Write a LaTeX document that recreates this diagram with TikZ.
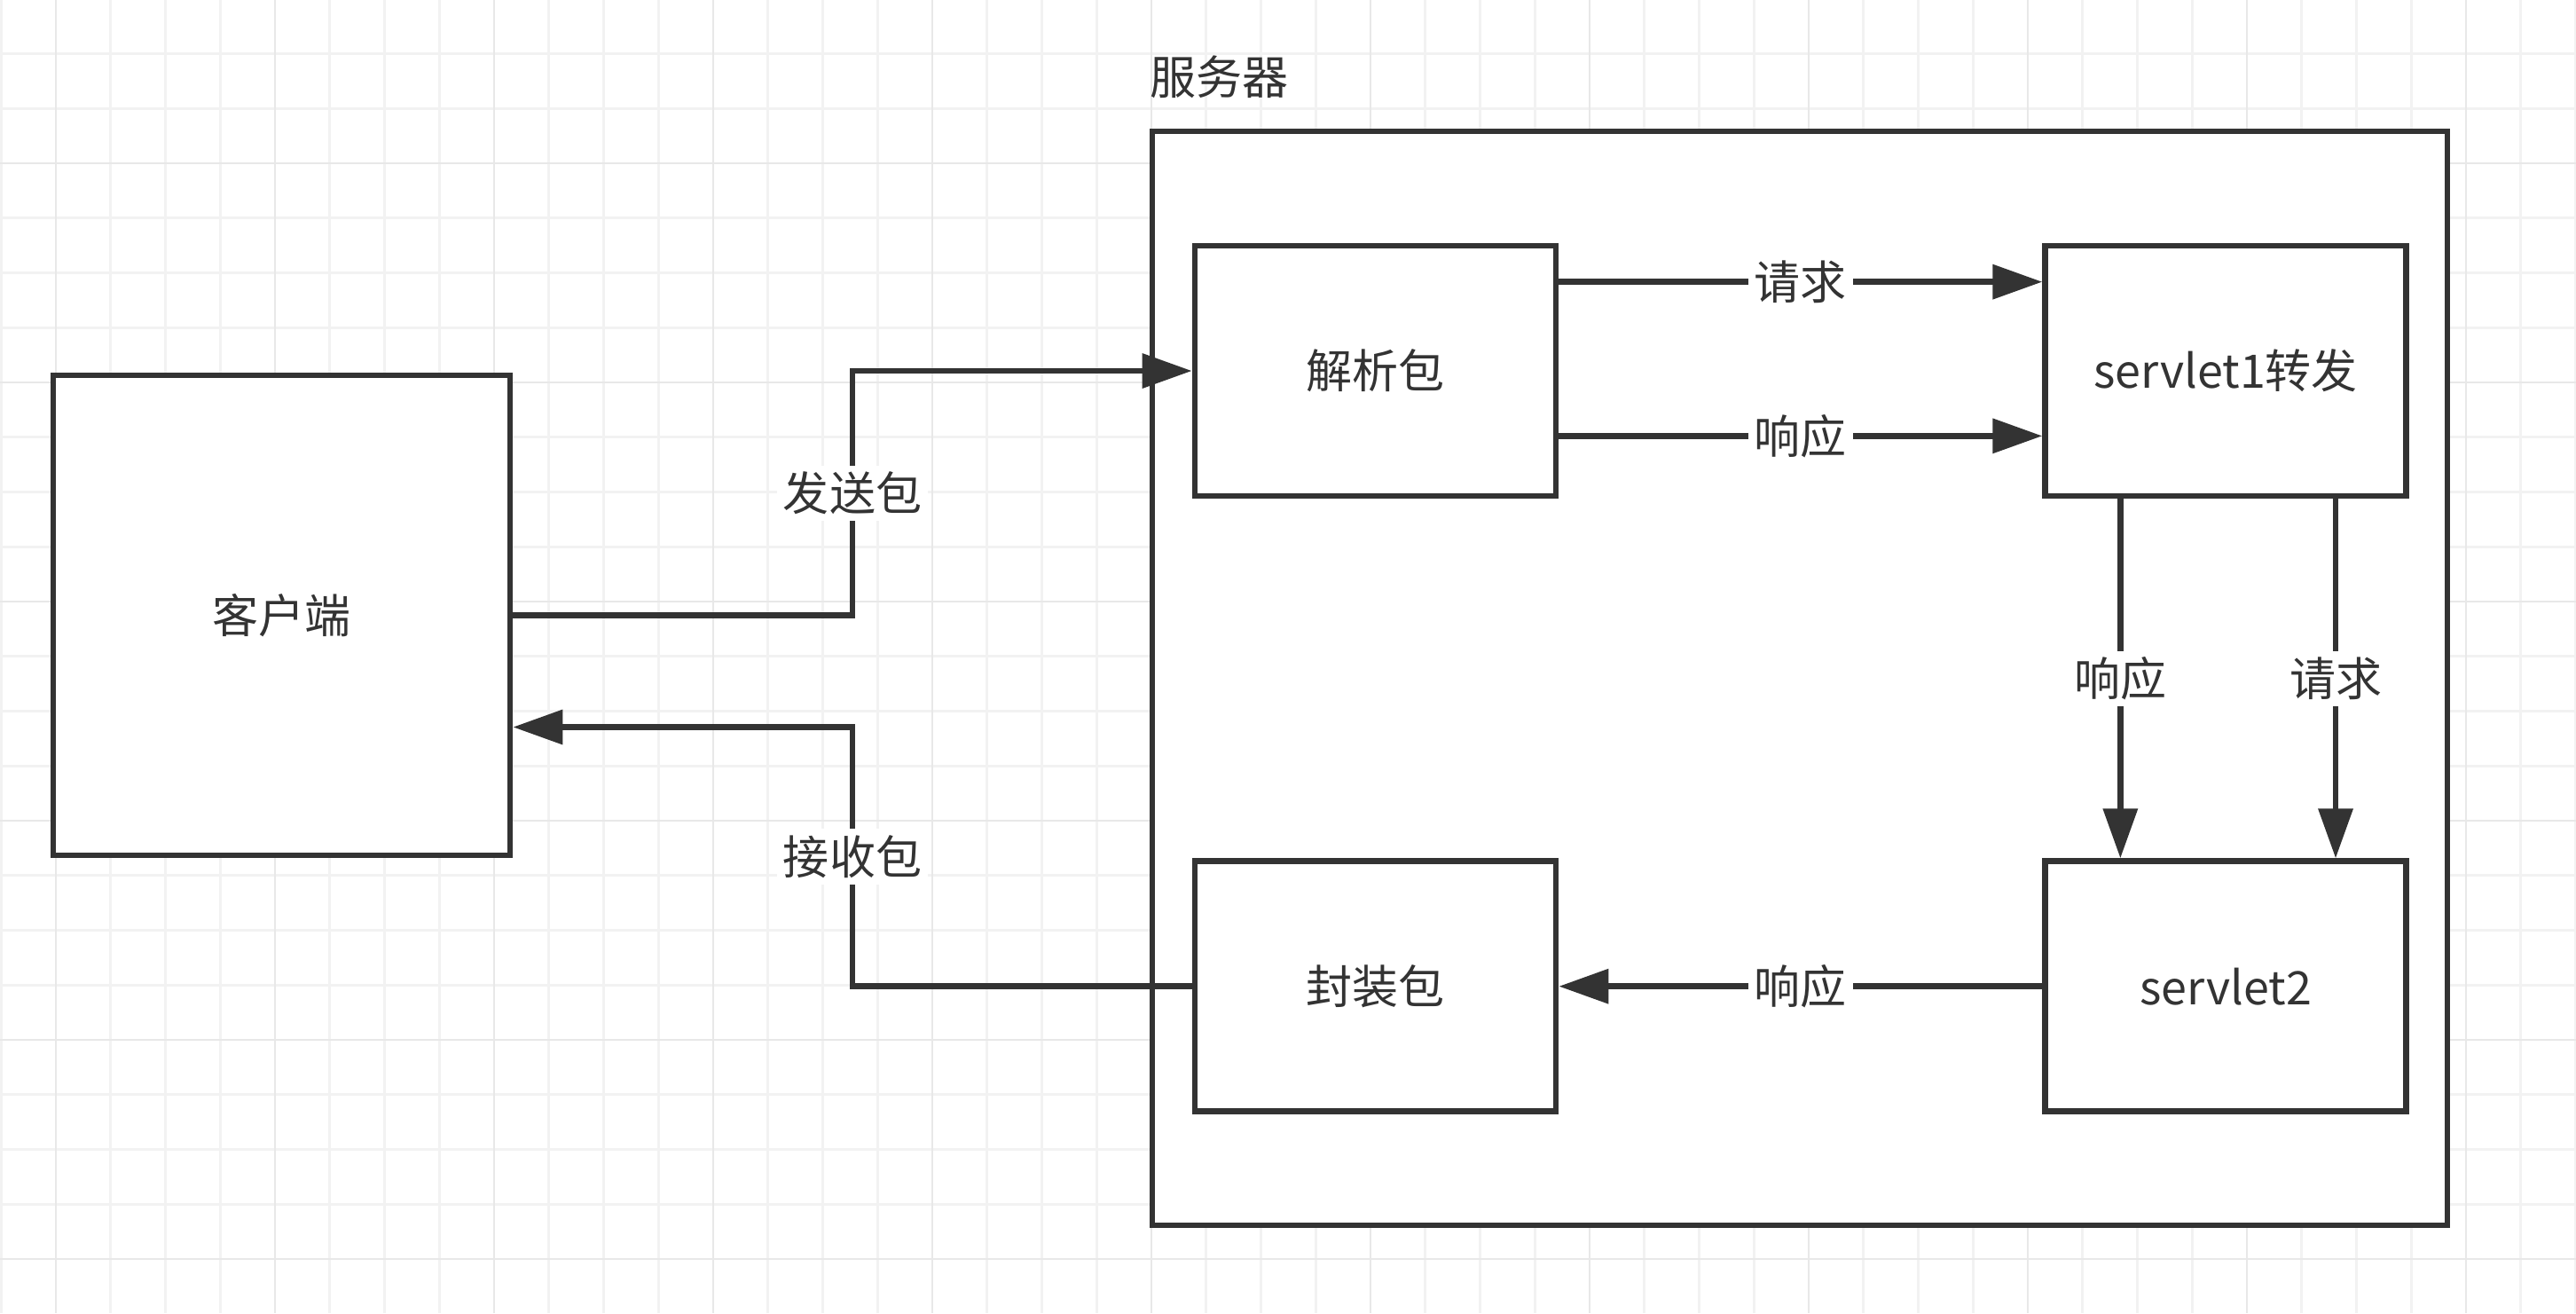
\documentclass[tikz,border=0pt]{standalone}
\usepackage{fontspec}
\setmainfont{Noto Sans CJK SC}
\usetikzlibrary{arrows.meta,positioning,calc}
\definecolor{ink}{HTML}{333333}

\begin{document}
\begin{tikzpicture}[
          box/.style   = {draw=ink, line width=1.9pt, fill=white, minimum width=40.7mm, minimum height=28.2mm, align=center},
          frame/.style = {draw=ink, line width=1.9pt, fill=white, minimum width=146mm, minimum height=123.3mm},
          wire/.style  = {draw=ink, line width=1.9pt, -{Triangle[length=5.6mm,width=3.8mm]}},
          tag/.style   = {fill=white, inner sep=2pt},
          minor/.style = {draw=gray!10, line width=0.8pt},
          major/.style = {draw=gray!18, line width=0.8pt},
          font=\fontsize{14.8}{17}\selectfont, text=ink
        ]

        % --- paper grid
        \fill[white] (0,0) rectangle (29.04,-14.80);
        \useasboundingbox (0,0) rectangle (29.04,-14.80);
        \foreach \i in {0,...,47} \draw[minor] (0.013+\i*0.6175,0) -- ++(0,-14.8);
        \foreach \j in {1,...,23} \draw[minor] (0,0.0125-\j*0.6175) -- ++(29.04,0);
        \foreach \i in {1,5,...,45} \draw[major] (0.013+\i*0.6175,0) -- ++(0,-14.8);
        \foreach \j in {3,7,...,23} \draw[major] (0,0.0125-\j*0.6175) -- ++(29.04,0);

        % --- blocks
        \node[frame]                                 (server) at (20.29,-7.645) {};
        \node[anchor=base west, inner sep=0pt]       (srvname) at ([yshift=3.8mm]server.north west) {服务器};
        \node[box, minimum width=51.5mm, minimum height=54.1mm] (client) at (3.175,-6.935) {客户端};
        \node[box]                                   (parse) at (15.505,-4.18) {解析包};
        \node[box, right=54.5mm of parse]            (fwd)   {servlet1转发};
        \node[box, below=40.5mm of parse]            (pack)  {封装包};
        \node[box, right=54.5mm of pack]             (sv2)   {servlet2};

        % --- inside the server
        \draw[wire] ([yshift=-4.4mm]parse.north east) -- node[tag]{请求} ([yshift=-4.4mm]fwd.north west);
        \draw[wire] ([yshift=7.1mm]parse.south east) -- node[tag]{响应} ([yshift=7.1mm]fwd.south west);
        \draw[wire] ([xshift=8.8mm]fwd.south west) -- node[tag]{响应} ([xshift=8.8mm]sv2.north west);
        \draw[wire] ([xshift=-8.3mm]fwd.south east) -- node[tag]{请求} ([xshift=-8.3mm]sv2.north east);
        \draw[wire] (sv2.west) -- node[tag]{响应} (pack.east);

        % --- client <-> server
        \coordinate (cin) at ([yshift=-12.6mm]client.east);
        \draw[wire] (client.east) -| ($(client.east)!.5!(parse.west)$) node[tag]{发送包} |- (parse.west);
        \draw[wire] (pack.west) -| ($(pack.west)!.5!(cin)$) node[tag]{接收包} |- (cin);
    \end{tikzpicture}
\end{document}
